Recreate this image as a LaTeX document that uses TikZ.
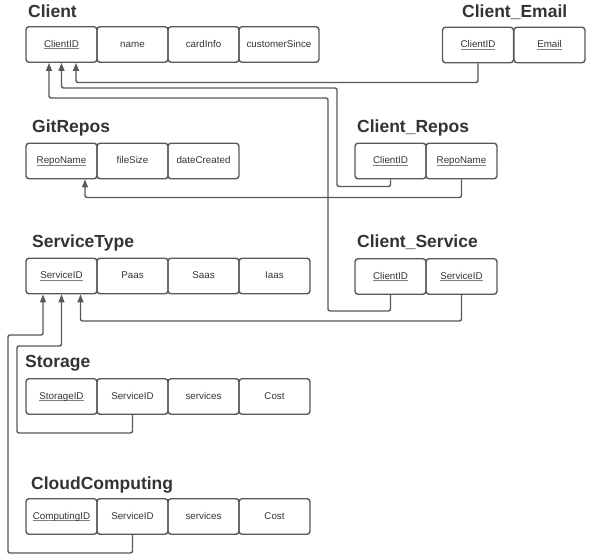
\documentclass[tikz,border=0pt]{standalone}
\usepackage{fontspec}
\setmainfont{Liberation Sans}
\usetikzlibrary{arrows.meta}
\definecolor{linegray}{HTML}{585858}
\definecolor{textgray}{HTML}{333333}
\newsavebox{\pkbox}
\newcommand{\pk}[1]{\sbox{\pkbox}{#1}\rlap{\color{gray}\rule[-1.8pt]{\wd\pkbox}{0.6pt}}\usebox{\pkbox}}

\begin{document}
\begin{tikzpicture}[x=1pt,y=-1pt,
    field/.style={draw=linegray,line width=1.4pt,rounded corners=3pt,minimum width=71pt,minimum height=35.5pt,inner sep=0pt,text height=7pt,text depth=2pt,text=textgray,font=\fontsize{9.8}{11}\selectfont},
    tabletitle/.style={anchor=base west,inner sep=0pt,text=textgray,font=\fontsize{17.5}{20}\selectfont\bfseries},
    fk/.style={draw=linegray,line width=1.4pt,rounded corners=2pt,-{Triangle[length=8pt,width=6pt]}}]
  \useasboundingbox (0,0) rectangle (598,560);

  % Client
  \node[tabletitle] (client) at (28,17) {Client};
  \node[field] (c_id) at (61.5,44.5) {\pk{ClientID}};
  \node[field] (c_name) at (132.5,44.5) {name};
  \node[field] (c_card) at (203.5,44.5) {cardInfo};
  \node[field,minimum width=80pt] (c_since) at (279,44.5) {customerSince};

  % Client_Email
  \node[tabletitle] (email) at (462,17) {Client\_Email};
  \node[field] (ce_id) at (478,45) {\pk{ClientID}};
  \node[field] (ce_mail) at (549.5,45) {\pk{Email}};

  % GitRepos
  \node[tabletitle] (repos) at (32,132.5) {GitRepos};
  \node[field] (g_name) at (61.5,161) {\pk{RepoName}};
  \node[field] (g_size) at (132.5,161) {fileSize};
  \node[field] (g_date) at (203.5,161) {dateCreated};

  % Client_Repos
  \node[tabletitle] (crepos) at (357,132.5) {Client\_Repos};
  \node[field] (cr_id) at (390.5,161) {\pk{ClientID}};
  \node[field] (cr_name) at (461.5,161) {\pk{RepoName}};

  % ServiceType
  \node[tabletitle] (stype) at (32,247.5) {ServiceType};
  \node[field] (st_id) at (61.5,276) {\pk{ServiceID}};
  \node[field] (st_paas) at (132.5,276) {Paas};
  \node[field] (st_saas) at (203.5,276) {Saas};
  \node[field] (st_iaas) at (274.5,276) {Iaas};

  % Client_Service
  \node[tabletitle] (cservice) at (357,247.5) {Client\_Service};
  \node[field] (cs_id) at (390.5,276.5) {\pk{ClientID}};
  \node[field] (cs_sid) at (461.5,276.5) {\pk{ServiceID}};

  % Storage
  \node[tabletitle] (storage) at (25,367) {Storage};
  \node[field] (s_id) at (61.5,396.5) {\pk{StorageID}};
  \node[field] (s_sid) at (132.5,396.5) {ServiceID};
  \node[field] (s_serv) at (203.5,396.5) {services};
  \node[field] (s_cost) at (274.5,396.5) {Cost};

  % CloudComputing
  \node[tabletitle] (cloud) at (31,489.5) {CloudComputing};
  \node[field] (cc_id) at (61.5,516.5) {\pk{ComputingID}};
  \node[field] (cc_sid) at (132.5,516.5) {ServiceID};
  \node[field] (cc_serv) at (203.5,516.5) {services};
  \node[field] (cc_cost) at (274.5,516.5) {Cost};

  % foreign keys
  \draw[fk] (ce_id.south) -- ++(0,19) -| ([xshift=14.5pt]c_id.south);
  \draw[fk] (cr_id.south) -- ++(0,7) -| (337,88) -| (c_id.south);
  \draw[fk] (cs_id.south) -- ++(0,16) -| (328,98) -| ([xshift=-12.5pt]c_id.south);
  \draw[fk] (cr_name.south) -- ++(0,18) -| ([xshift=23.5pt]g_name.south);
  \draw[fk] (cs_sid.south) -- ++(0,26) -| ([xshift=19pt]st_id.south);
  \draw[fk] (s_sid.south) -- ++(0,18) -| (17,346) -| (st_id.south);
  \draw[fk] (cc_sid.south) -- ++(0,18) -| (8,335) -| ([xshift=-18.5pt]st_id.south);
\end{tikzpicture}
\end{document}
